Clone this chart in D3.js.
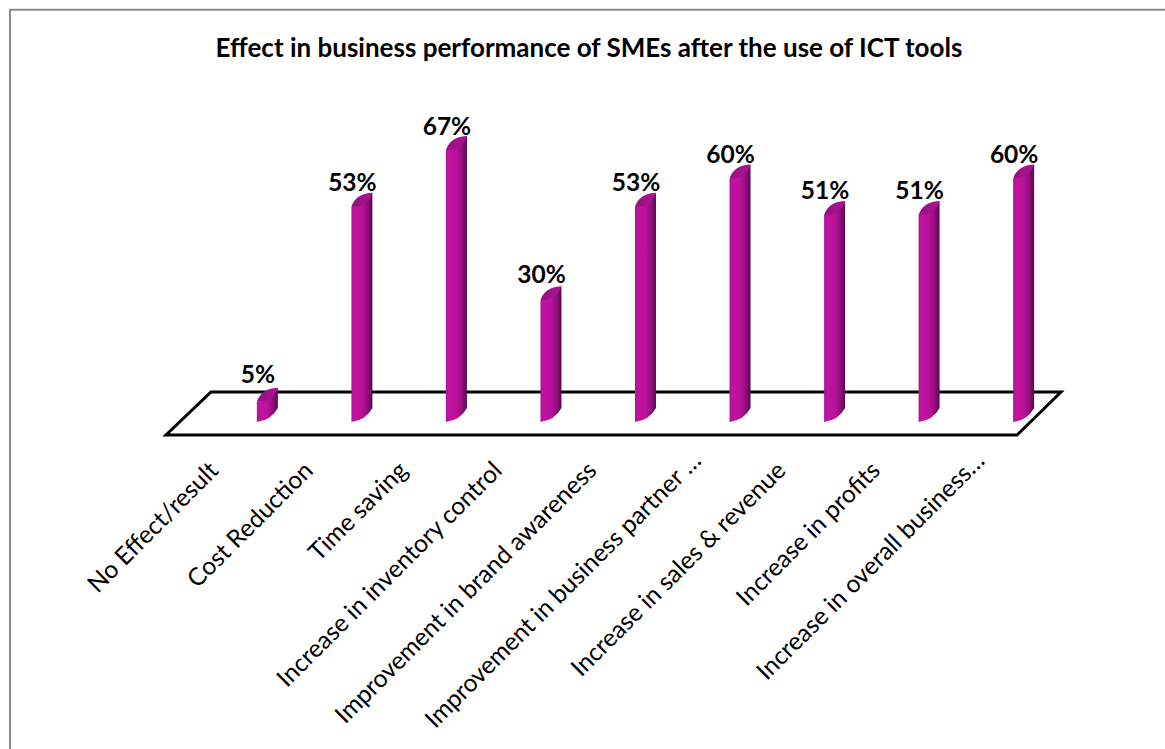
<!DOCTYPE html>
<html>
<head>
<meta charset="utf-8">
<script src="https://cdn.jsdelivr.net/npm/d3@7"></script>
<style>
  html, body { margin: 0; padding: 0; background: #fff; }
  svg { display: block; }
  text { font-family: Lato, "Open Sans", sans-serif; fill: #000; }
</style>
</head>
<body>
<svg id="chart" width="1165" height="749"></svg>
<script>
const titleText = 'Effect in business performance of SMEs after the use of ICT tools';
const categories = [
  'No Effect/result',
  'Cost Reduction',
  'Time saving',
  'Increase in inventory control',
  'Improvement in brand awareness',
  'Improvement in business partner …',
  'Increase in sales & revenue',
  'Increase in profits',
  'Increase in overall business…',
];
const values = [5, 53, 67, 30, 53, 60, 51, 51, 60];

const svg = d3.select('#chart');

let x = d3.scaleBand().domain(categories).range([220, 1071]).paddingInner(0.778).paddingOuter(0.39);
let y = d3.scaleLinear().domain([0, 100]).range([422, 16]);
// value labels sit a little further from the short bars
let labelGap = d3.scaleLinear().domain([0, 67]).range([18.5, 15]);

const w = x.bandwidth();
const rise = 14; // how far the back of the chart sits above the front

// chart frame, only top and left are visible in the picture
svg.append('path').attr('d', 'M10,749V9.7H1165').attr('fill', 'none').attr('stroke', '#8a8a8a').attr('stroke-width', 2);

svg.append('text')
  .attr('x', 589).attr('y', 57)
  .attr('text-anchor', 'middle')
  .attr('font-size', 26).attr('font-weight', 700)
  .text(titleText);

// floor
svg.append('path')
  .attr('d', 'M166,435H1017L1061,392H211Z')
  .attr('fill', 'none').attr('stroke', '#000').attr('stroke-width', 3);

let defs = svg.append('defs');
let grad = defs.append('linearGradient').attr('id', 'barFill');
[[0, '#b5109c'], [0.15, '#c0139f'], [0.5, '#bb119b'], [0.75, '#960f80'], [1, '#560a4c']].forEach(([o, c]) => {
  grad.append('stop').attr('offset', o).attr('stop-color', c);
});
let capGrad = defs.append('linearGradient').attr('id', 'capFill');
[[0, '#931280'], [1, '#ab1495']].forEach(([o, c]) => {
  capGrad.append('stop').attr('offset', o).attr('stop-color', c);
});

function bodyPath(left, top) {
  let p = d3.path();
  p.moveTo(left, top);
  p.lineTo(left, y(0));
  p.quadraticCurveTo(left + w * 0.7, y(0) - 2, left + w, y(0) - rise);
  p.lineTo(left + w, top - rise);
  p.quadraticCurveTo(left + w * 0.6, top - 1, left, top);
  p.closePath();
  return p.toString();
}

function capPath(left, top) {
  let p = d3.path();
  p.moveTo(left, top);
  p.quadraticCurveTo(left + w * 0.2, top - rise + 1, left + w - 1, top - rise);
  p.lineTo(left + w, top - rise);
  p.quadraticCurveTo(left + w * 0.75, top + 1, left, top);
  p.closePath();
  return p.toString();
}

let bars = svg.selectAll('g.bar').data(categories).join('g').attr('class', 'bar');

bars.append('path')
  .attr('d', (d, i) => bodyPath(x(d), y(values[i])))
  .attr('fill', 'url(#barFill)');

bars.append('path')
  .attr('d', (d, i) => capPath(x(d), y(values[i])))
  .attr('fill', 'url(#capFill)');

bars.append('text')
  .attr('x', (d) => x(d) + 1)
  .attr('y', (d, i) => y(values[i]) - labelGap(values[i]))
  .attr('text-anchor', 'middle')
  .attr('font-size', 24.5).attr('font-weight', 700)
  .text((d, i) => values[i] + '%');

// rotated category labels, the cut off ones run a bit past the others
svg.selectAll('text.cat').data(categories).join('text')
  .attr('class', 'cat')
  .attr('text-anchor', 'end')
  .attr('font-size', 24.6)
  .attr('dx', (d) => (d.endsWith('…') ? 14 : 0))
  .attr('transform', (d) => `translate(${x(d) - 37},472) rotate(-45)`)
  .text((d) => d);
</script>
</body>
</html>
